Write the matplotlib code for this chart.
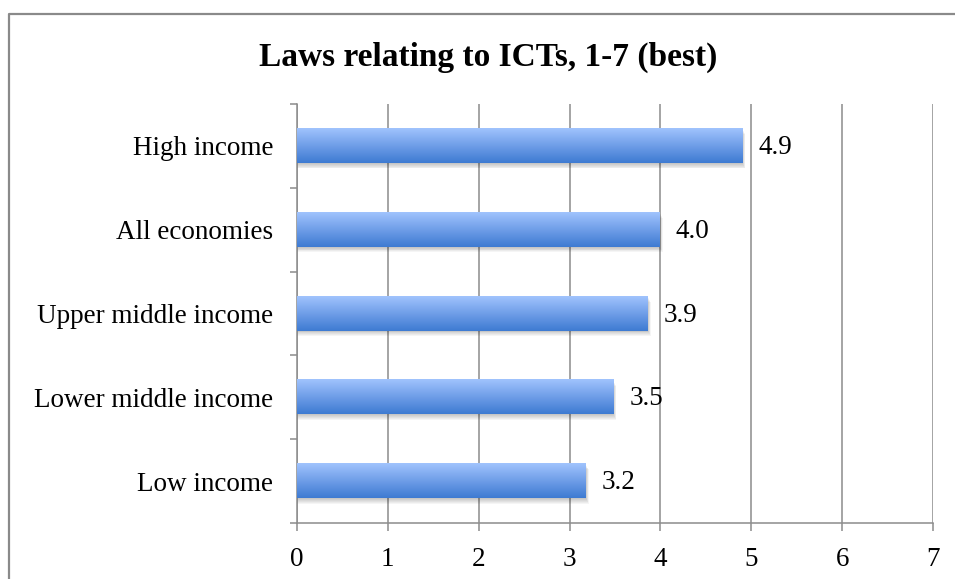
import numpy as np
import matplotlib.pyplot as plt
from matplotlib.colors import LinearSegmentedColormap
from matplotlib.lines import Line2D
from matplotlib.patches import Rectangle

categories = ['Low income', 'Lower middle income', 'Upper middle income', 'All economies', 'High income']
scores = [3.18, 3.48, 3.86, 3.99, 4.90]
x_ticks = [0, 1, 2, 3, 4, 5, 6, 7]
title = 'Laws relating to ICTs, 1-7 (best)'

plt.rcParams['font.family'] = ['Liberation Serif', 'DejaVu Serif']

W, H = 955, 579
fig = plt.figure(figsize=(W / 100, H / 100), dpi=100)
ax = fig.add_axes([297 / W, 56 / H, 636 / W, 419 / H])

# outer chart frame: only the left and top edges fall inside the image
fig.add_artist(Line2D([9 / W, 9 / W, 1.2], [-0.2, 1 - 14 / H, 1 - 14 / H],
                      transform=fig.transFigure, color='#8a8a8a', linewidth=1.6))

grey = '#8c8c8c'
bar_h = 0.41
px_x = 7 / 636
px_y = 5 / 419
grad = LinearSegmentedColormap.from_list('barfill', ['#3e7bd2', '#6f9ee8', '#a0c3fd'])
ramp = np.linspace(0, 1, 64).reshape(-1, 1)

for i, v in enumerate(scores):
    y0 = i - bar_h / 2
    # soft drop shadow under each bar
    for k in range(1, 7):
        ax.add_patch(Rectangle((0, y0 - k * px_y * 0.9), v + k * px_x * 0.5, bar_h,
                               facecolor='#000000', alpha=0.04, edgecolor='none', zorder=2))
    ax.imshow(ramp, cmap=grad, origin='lower', aspect='auto',
              extent=[0, v, y0, y0 + bar_h], zorder=3, interpolation='bilinear')
    ax.text(v + 16 * px_x, i - 0.02, f'{v:.1f}', va='center', ha='left', fontsize=19.5, zorder=4)

ax.set_xlim(0, 7)
ax.set_ylim(-0.5, len(categories) - 0.5)
ax.set_xticks(x_ticks)
ax.set_xticklabels([str(t) for t in x_ticks], fontsize=19.5)
ax.set_yticks(range(len(categories)))
ax.set_yticklabels(categories, fontsize=19.5)
ax.set_yticks(np.arange(-0.5, len(categories), 1), minor=True)

ax.tick_params(axis='y', which='major', length=0, pad=17)
ax.tick_params(axis='y', which='minor', length=5, width=1.1, color=grey, direction='out')
ax.tick_params(axis='x', length=6, width=1.1, color=grey, direction='out', pad=11)

ax.grid(axis='x', color=grey, linewidth=1.1, zorder=1)
ax.set_axisbelow(True)
for side in ['top', 'right']:
    ax.spines[side].set_visible(False)
for side in ['left', 'bottom']:
    ax.spines[side].set_color(grey)
    ax.spines[side].set_linewidth(1.1)

fig.text(488 / W, 1 - 57 / H, title, ha='center', va='center', fontsize=24, fontweight='bold')

fig.savefig('out.png', dpi=100)
